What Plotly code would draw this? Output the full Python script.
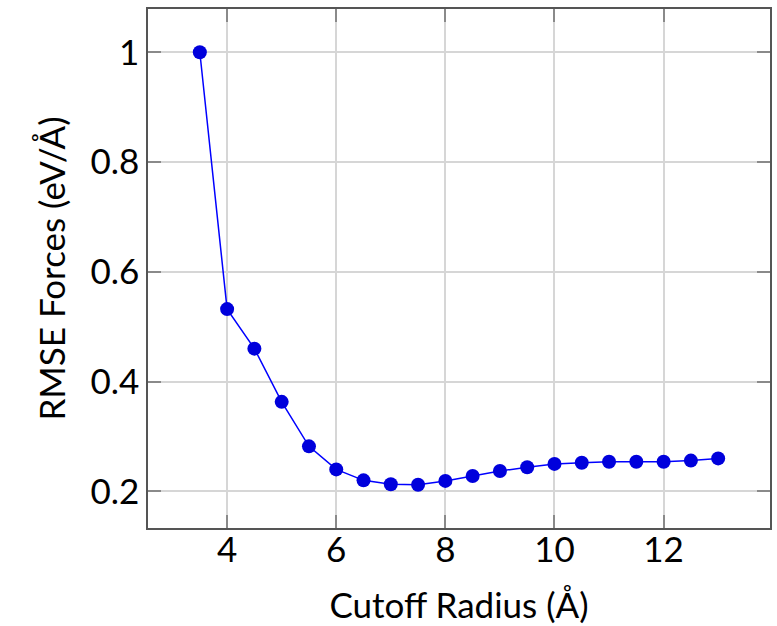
import plotly.graph_objects as go

# Cutoff radius (Å) and RMSE of forces (eV/Å)
cutoff_radius = [3.5, 4.0, 4.5, 5.0, 5.5, 6.0, 6.5, 7.0, 7.5, 8.0, 8.5, 9.0,
                 9.5, 10.0, 10.5, 11.0, 11.5, 12.0, 12.5, 13.0]
rmse_forces = [1.0, 0.532, 0.460, 0.363, 0.282, 0.240, 0.220, 0.213, 0.212, 0.219,
               0.228, 0.237, 0.244, 0.250, 0.252, 0.254, 0.254, 0.254, 0.256, 0.260]

x_ticks = [4, 6, 8, 10, 12]
y_ticks = [0.2, 0.4, 0.6, 0.8, 1.0]
y_tick_text = ["0.2", "0.4", "0.6", "0.8", "1"]

# Axis limits padded by 10% of the data span on each side
def padded(vals, frac=0.1):
    lo, hi = min(vals), max(vals)
    d = (hi - lo) * frac
    return [lo - d, hi + d]

FONT = "Lato"
FS = 35
fig = go.Figure()
fig.add_trace(go.Scatter(
    x=cutoff_radius, y=rmse_forces, mode="lines+markers",
    line=dict(color="#0000ff", width=1.5),
    marker=dict(color="#0000dc", size=14, line=dict(width=0)),
    showlegend=False,
))

axis_common = dict(
    showgrid=True, gridcolor="#d6d6d6", gridwidth=1.5,
    showline=True, linecolor="#555555", linewidth=1.5, mirror="ticks",
    ticks="inside", ticklen=13, tickwidth=1.5, tickcolor="#8a8a8a",
    zeroline=False, tickfont=dict(family=FONT, size=FS, color="black"),
)

fig.update_xaxes(
    range=padded(cutoff_radius), tickvals=x_ticks, ticklabelstandoff=-10,
    title=dict(text="Cutoff Radius (Å)", font=dict(family=FONT, size=FS, color="black"),
               standoff=26),
    **axis_common,
)
fig.update_yaxes(
    range=padded(rmse_forces), tickvals=y_ticks, ticktext=y_tick_text,
    title=dict(text="RMSE Forces (eV/Å)",
               font=dict(family=FONT, size=FS, color="black"), standoff=14),
    **axis_common,
)

fig.update_layout(
    width=777, height=626,
    margin=dict(l=148, r=5, t=9, b=98),
    paper_bgcolor="white", plot_bgcolor="white",
)

fig.write_html("out.html")
